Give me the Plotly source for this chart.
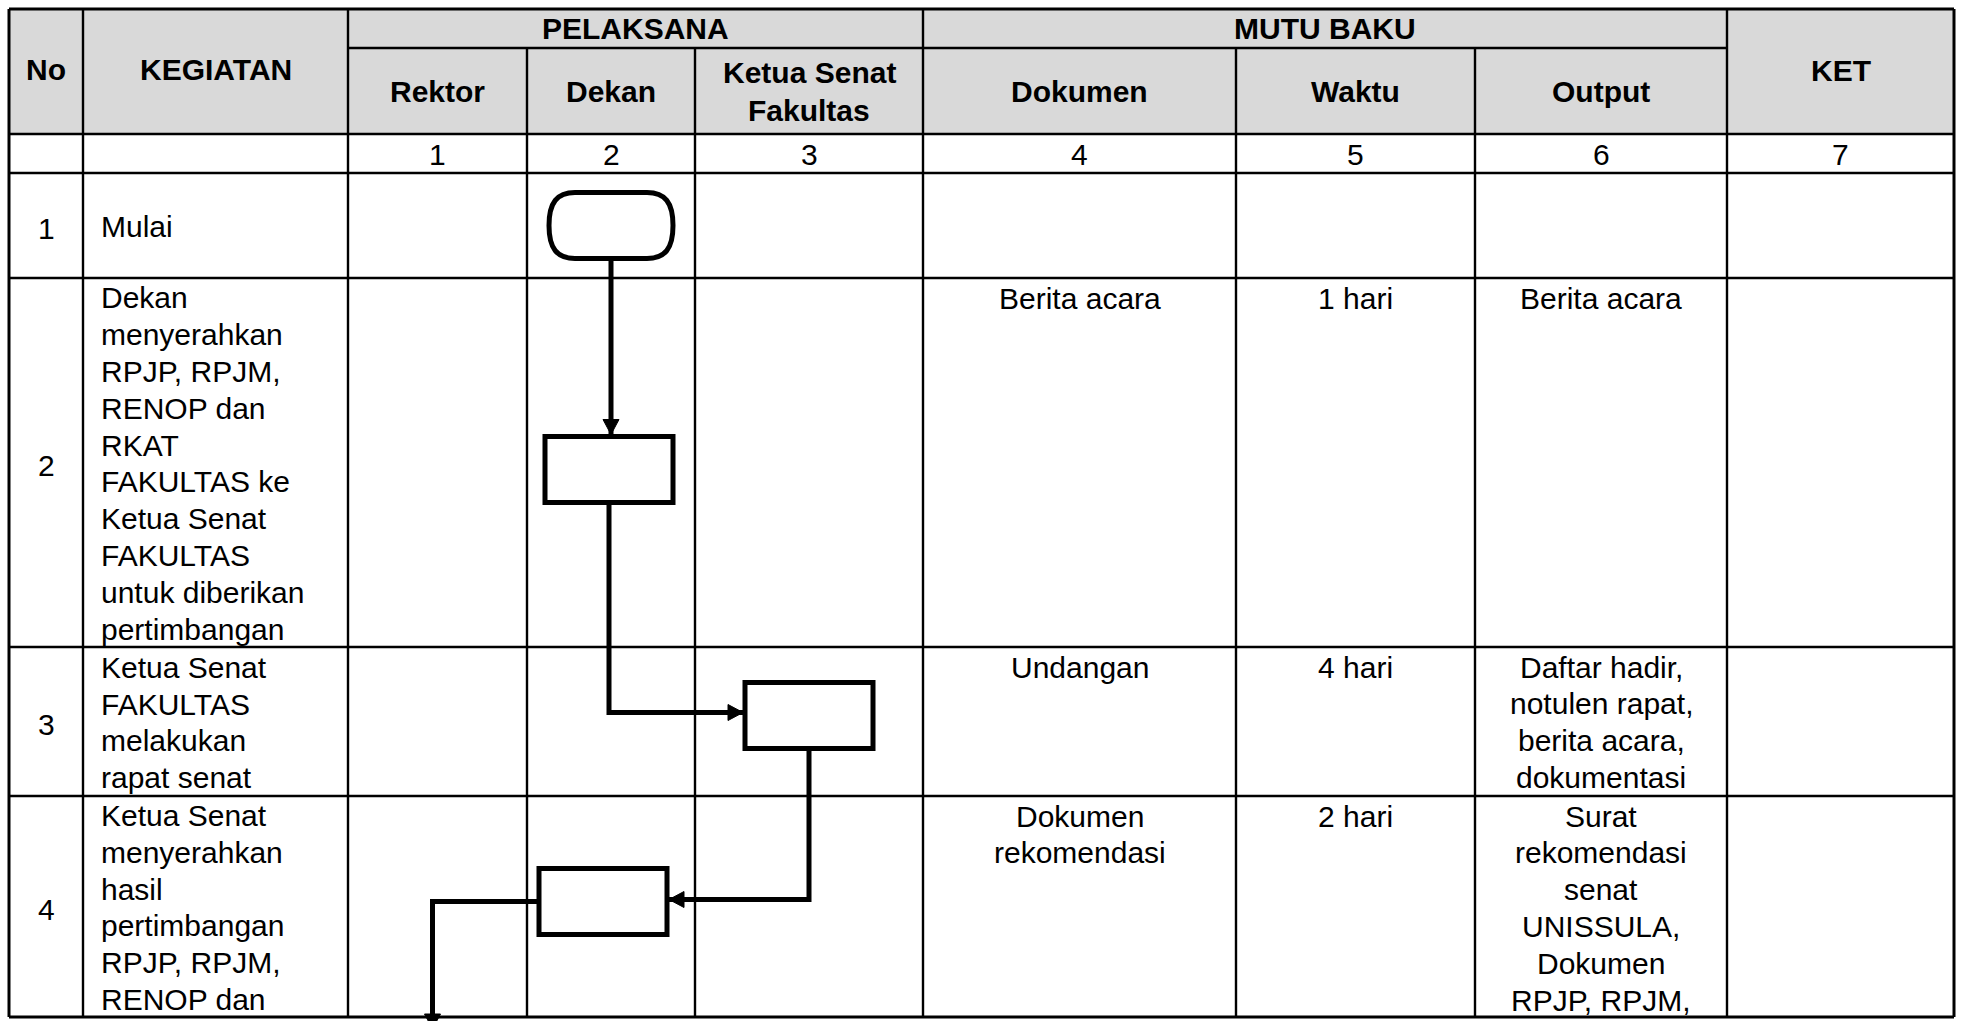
import plotly.graph_objects as go

# ------------------------------------------------------------------ data
group_headers = ["PELAKSANA", "MUTU BAKU"]
no_header = "No"
kegiatan_header = "KEGIATAN"
ket_header = "KET"
lane_headers = [["Rektor"], ["Dekan"], ["Ketua Senat", "Fakultas"]]
lane_keys = ["Rektor", "Dekan", "Ketua Senat Fakultas"]
mutu_headers = ["Dokumen", "Waktu", "Output"]
col_numbers = ["1", "2", "3", "4", "5", "6", "7"]
row_numbers = ["1", "2", "3", "4"]

kegiatan = [
    ["Mulai"],
    ["Dekan", "menyerahkan", "RPJP, RPJM,", "RENOP dan", "RKAT", "FAKULTAS ke",
     "Ketua Senat", "FAKULTAS", "untuk diberikan", "pertimbangan"],
    ["Ketua Senat", "FAKULTAS", "melakukan", "rapat senat"],
    ["Ketua Senat", "menyerahkan", "hasil", "pertimbangan", "RPJP, RPJM,", "RENOP dan"],
]
dokumen = [[], ["Berita acara"], ["Undangan"], ["Dokumen", "rekomendasi"]]
waktu = [[], ["1 hari"], ["4 hari"], ["2 hari"]]
output = [
    [],
    ["Berita acara"],
    ["Daftar hadir,", "notulen rapat,", "berita acara,", "dokumentasi"],
    ["Surat", "rekomendasi", "senat", "UNISSULA,", "Dokumen", "RPJP, RPJM,"],
]

# flow steps: lane of each step (one per activity row) and shape kind
step_lane = ["Dekan", "Dekan", "Ketua Senat Fakultas", "Dekan"]
step_shape = ["terminal", "process", "process", "process"]
next_lane = "Rektor"  # the flow continues below the visible part

# ------------------------------------------------------------------ layout geometry
W, H = 1963, 1021
col_edges = [9, 83, 348, 527, 695, 923, 1236, 1475, 1727, 1954]
y_top, y_group, y_head, y_num = 9, 48, 134, 173
row_edges = [173, 278, 647, 796, 1017]
LH = 36.8           # text line height
FS = 30             # body font size
FONT = "Liberation Sans, Arial, sans-serif"
GRAY = "#D9D9D9"
INNER_W, OUTER_W, FLOW_W = 2.4, 3, 5
BOX_W, BOX_H = 128, 66
TERM_W = 116
HEAD_L, HEAD_HW = 15, 8
# small hand-placement offsets of the flow symbols inside their cells (layout only)
STEP_NUDGE = [(0, 0), (-2, 7), (0, -6), (-8, -5)]

shapes, annos = [], []


def line(x0, y0, x1, y1, w=INNER_W, color="black", layer="below"):
    shapes.append(dict(type="line", x0=x0, y0=y0, x1=x1, y1=y1, xref="x", yref="y",
                       line=dict(color=color, width=w), layer=layer))


def text(x, y, s, bold=False, xanchor="center", size=FS):
    annos.append(dict(x=x, y=y, xref="x", yref="y", text=f"<b>{s}</b>" if bold else s,
                      showarrow=False, xanchor=xanchor, yanchor="middle",
                      font=dict(family=FONT, size=size, color="black"),
                      align=xanchor if xanchor != "center" else "center"))


def ccx(i):
    return (col_edges[i] + col_edges[i + 1]) / 2


# header gray fill
shapes.append(dict(type="rect", x0=col_edges[0], x1=col_edges[-1], y0=y_top, y1=y_head,
                   xref="x", yref="y", fillcolor=GRAY, line=dict(width=0), layer="below"))

# horizontal rules
line(col_edges[2], y_group, col_edges[8], y_group)
for y in [y_head, y_num] + row_edges[1:-1]:
    line(col_edges[0], y, col_edges[-1], y)
line(col_edges[0], y_top, col_edges[-1], y_top, OUTER_W)
line(col_edges[0], row_edges[-1], col_edges[-1], row_edges[-1], OUTER_W)

# vertical rules
for i, x in enumerate(col_edges):
    if i in (0, len(col_edges) - 1):
        line(x, y_top, x, row_edges[-1], OUTER_W)
    elif i in (1, 2, 5, 8):
        line(x, y_top, x, row_edges[-1])
    else:
        line(x, y_group, x, row_edges[-1])

# header texts
hy = (y_top + y_head) / 2 - 2
text(ccx(0), hy, no_header, bold=True)
text(ccx(1), hy, kegiatan_header, bold=True)
text(ccx(8), hy + 1, ket_header, bold=True)
gy = (y_top + y_group) / 2
text((col_edges[2] + col_edges[5]) / 2, gy, group_headers[0], bold=True)
text((col_edges[5] + col_edges[8]) / 2, gy, group_headers[1], bold=True)
sy = (y_group + y_head) / 2
for k, lines in enumerate(lane_headers):
    n = len(lines)
    for j, s in enumerate(lines):
        text(ccx(2 + k), sy + (j - (n - 1) / 2) * 38, s, bold=True)
for k, s in enumerate(mutu_headers):
    text(ccx(5 + k), sy, s, bold=True)

# column numbers
ny = (y_num + y_head) / 2 + 1
for k, s in enumerate(col_numbers):
    text(ccx(2 + k), ny, s)

# body rows
for r in range(len(row_numbers)):
    top, bot = row_edges[r], row_edges[r + 1]
    text(ccx(0), (top + bot) / 2 + 3, row_numbers[r])
    lines = kegiatan[r]
    start = top + max(0, (bot - top - len(lines) * LH) / 2) + LH / 2 + 1
    for j, s in enumerate(lines):
        text(col_edges[1] + 16, start + j * LH, s, xanchor="left")
    for c, col in zip((5, 6, 7), (dokumen, waktu, output)):
        for j, s in enumerate(col[r]):
            text(ccx(c), top + 20 + j * LH, s)

# ------------------------------------------------------------------ flowchart
lane_x = {k: ccx(2 + i) for i, k in enumerate(lane_keys)}
boxes = []
for r, (lane, kind) in enumerate(zip(step_lane, step_shape)):
    ndx, ndy = STEP_NUDGE[r]
    cx = lane_x[lane] + ndx
    cy = (row_edges[r] + row_edges[r + 1]) / 2 + ndy
    bw = TERM_W if kind == "terminal" else BOX_W
    x0, x1, y0, y1 = cx - bw / 2, cx + bw / 2, cy - BOX_H / 2, cy + BOX_H / 2
    boxes.append((cx, cy, x0, x1, y0, y1))
    if kind == "terminal":
        rr, b = 22, 4
        path = (f"M{x0+rr},{y0} L{x1-rr},{y0} C{x1-4},{y0} {x1+b},{y0+10} {x1+b},{(y0+y1)/2} "
                f"C{x1+b},{y1-10} {x1-4},{y1} {x1-rr},{y1} L{x0+rr},{y1} "
                f"C{x0+4},{y1} {x0-b},{y1-10} {x0-b},{(y0+y1)/2} "
                f"C{x0-b},{y0+10} {x0+4},{y0} {x0+rr},{y0} Z")
        shapes.append(dict(type="path", path=path, xref="x", yref="y", fillcolor="white",
                           line=dict(color="black", width=FLOW_W), layer="above"))
    else:
        shapes.append(dict(type="rect", x0=x0, x1=x1, y0=y0, y1=y1, xref="x", yref="y",
                           fillcolor="white", line=dict(color="black", width=FLOW_W),
                           layer="above"))


def arrowhead(tx, ty, d):
    dx, dy = {"down": (0, 1), "up": (0, -1), "right": (1, 0), "left": (-1, 0)}[d]
    bx, by = tx - dx * HEAD_L, ty - dy * HEAD_L
    px, py = -dy * HEAD_HW, dx * HEAD_HW
    path = f"M{tx},{ty} L{bx+px},{by+py} L{bx-px},{by-py} Z"
    shapes.append(dict(type="path", path=path, xref="x", yref="y", fillcolor="black",
                       line=dict(color="black", width=1), layer="above"))


fig_traces = []


def connector(xs, ys, d):
    fig_traces.append(go.Scatter(x=xs, y=ys, mode="lines", hoverinfo="skip",
                                 line=dict(color="black", width=FLOW_W), showlegend=False))
    arrowhead(xs[-1], ys[-1], d)


for i in range(len(boxes) - 1):
    cx, cy, x0, x1, y0, y1 = boxes[i]
    ncx, ncy, nx0, nx1, ny0, ny1 = boxes[i + 1]
    if abs(ncx - cx) < 5:
        connector([cx, cx], [y1, ny0 - 2], "down")
    elif ncx > cx:
        connector([cx, cx, nx0 - 2], [y1, ncy - 3, ncy - 3], "right")
    else:
        connector([cx, cx, nx1 + 2], [y1, ncy - 2, ncy - 2], "left")

# continuation from the last step to the next lane (below the visible area)
cx, cy, x0, x1, y0, y1 = boxes[-1]
tx = lane_x[next_lane] - 5
connector([x0, tx, tx], [cy, cy, H + 8], "down")

fig = go.Figure(fig_traces)
fig.update_layout(
    width=W, height=H, margin=dict(l=0, r=0, t=0, b=0),
    paper_bgcolor="white", plot_bgcolor="white",
    xaxis=dict(range=[0, W], visible=False, fixedrange=True),
    yaxis=dict(range=[H, 0], visible=False, fixedrange=True),
    shapes=shapes, annotations=annos, showlegend=False,
)
fig.write_html("out.html", config={"displayModeBar": False},
               post_script="document.body.style.margin='0px';document.body.style.overflow='hidden';")
